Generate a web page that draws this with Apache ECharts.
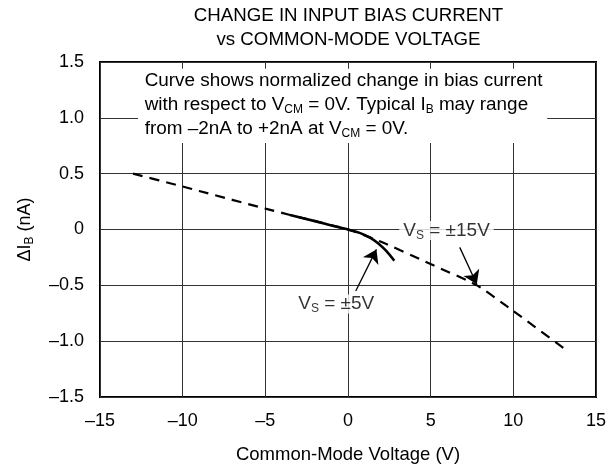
<!DOCTYPE html>
<html><head><meta charset="utf-8">
<script src="https://cdn.jsdelivr.net/npm/echarts@6/dist/echarts.min.js"></script>
<style>html,body{margin:0;padding:0;background:#fff}#c{width:609px;height:469px}</style>
</head><body><div id="c"></div>
<script>
// ---- data ----
const xTicks = [-15, -10, -5, 0, 5, 10, 15];
const xTickLabels = ['–15', '–10', '–5', '0', '5', '10', '15'];
const yTicks = [-1.5, -1, -0.5, 0, 0.5, 1, 1.5];
const yTickLabels = ['–1.5', '–1.0', '–0.5', '0', '0.5', '1.0', '1.5'];
// Vs = ±15V (dashed)
const vcm15 = [-13, -10, -9, -5, -3.5, 0, 2, 5, 7.8, 10, 13.2];
const dIb15 = [0.5, 0.385, 0.345, 0.187, 0.13, 0, -0.11, -0.31, -0.5, -0.73, -1.08];
// Vs = ±5V (solid)
const vcm5 = [-3.5, -2, -1, 0, 0.7, 1.3, 1.8, 2.3, 2.8];
const dIb5 = [0.13, 0.075, 0.036, 0, -0.03, -0.07, -0.12, -0.19, -0.28];
// annotation anchors (data coords)
const arrow15 = [[6.76, -0.16], [7.79, -0.49]];
const arrow5 = [[0.47, -0.55], [1.72, -0.178]];
const label15Pos = [5.96, -0.01];
const label5Pos = [-0.71, -0.667];
const noteAnchor = [-12.3, 1.437];
const noteBox = [[-12.7, 1.44], [12.05, 0.774]];

const FF = '"Liberation Sans", Arial, Helvetica, sans-serif';
const chart = echarts.init(document.getElementById('c'), null, {renderer: 'canvas'});
const richBase = {
  s: {fontSize: 12, fontFamily: FF, color: '#000', padding: [10, 0, 0, 0], lineHeight: 12}
};
const zip = (a, b) => a.map((v, i) => [v, b[i]]);

chart.setOption({
  animation: false,
  backgroundColor: '#fff',
  grid: {left: 100, right: 12, top: 62, bottom: 72, show: true, borderColor: '#000', borderWidth: 2, backgroundColor: 'transparent'},
  xAxis: {
    type: 'value', min: -15, max: 15, interval: 5,
    axisLine: {show: false}, axisTick: {show: false},
    splitLine: {lineStyle: {color: '#333', width: 1}},
    axisLabel: {formatter: v => xTickLabels[xTicks.indexOf(v)], fontSize: 18, color: '#000', fontFamily: FF, margin: 15},
    name: 'Common-Mode Voltage (V)', nameLocation: 'middle', nameGap: 48,
    nameTextStyle: {fontSize: 18.5, color: '#000', fontFamily: FF}
  },
  yAxis: {
    type: 'value', min: -1.5, max: 1.5, interval: 0.5,
    axisLine: {show: false}, axisTick: {show: false},
    splitLine: {lineStyle: {color: '#333', width: 1}},
    axisLabel: {formatter: v => yTickLabels[yTicks.findIndex(t => Math.abs(t - v) < 1e-9)], fontSize: 18, color: '#000', fontFamily: FF, margin: 16},
    name: 'ΔI{s|B} (nA)', nameLocation: 'middle', nameGap: 66, nameRotate: 90,
    nameTextStyle: {fontSize: 18, color: '#000', fontFamily: FF, rich: richBase}
  },
  series: [
    {type: 'line', data: zip(vcm15, dIb15), showSymbol: false, smooth: 0.2,
     lineStyle: {color: '#000', width: 2.2, type: [10, 7]}, z: 3,
     markArea: {silent: true, itemStyle: {color: '#fff'}, data: [[{coord: noteBox[0]}, {coord: noteBox[1]}]]}},
    {type: 'line', data: zip(vcm5, dIb5), showSymbol: false, smooth: 0.3,
     lineStyle: {color: '#000', width: 2.6}, z: 4},
    {type: 'lines', coordinateSystem: 'cartesian2d', symbol: ['none', 'arrow'], symbolSize: [6, 13],
     lineStyle: {color: '#000', width: 1.3, curveness: 0, opacity: 1}, z: 5,
     data: [{coords: arrow15}, {coords: arrow5}]},
    {type: 'scatter', symbolSize: 0, z: 6,
     data: [
       {value: label15Pos, label: {formatter: 'V{s|S} = ±15V'}},
       {value: label5Pos, label: {formatter: 'V{s|S} = ±5V'}}
     ],
     label: {show: true, position: 'inside', fontSize: 19, color: '#000', fontFamily: FF,
             backgroundColor: '#fff', padding: [0, 4, 0, 4], rich: richBase}}
  ]
});

const p = chart.convertToPixel({gridIndex: 0}, noteAnchor);
const titleX = chart.convertToPixel({gridIndex: 0}, [0.03, 0])[0];
chart.setOption({
  graphic: [
    {type: 'text', x: titleX, y: 4, z: 10,
     style: {text: 'CHANGE IN INPUT BIAS CURRENT\nvs COMMON-MODE VOLTAGE', align: 'center',
             fontSize: 18.7, fontFamily: FF, fill: '#000', lineHeight: 24}},
    {type: 'text', x: p[0], y: p[1], z: 10,
     style: {text: 'Curve shows normalized change in bias current\nwith respect to V{s|CM} = 0V. Typical I{s|B} may range\nfrom –2nA to +2nA at V{s|CM} = 0V.',
             fontSize: 18.9, fontFamily: FF, fill: '#000', lineHeight: 24, rich: richBase}}
  ]
});
</script></body></html>
